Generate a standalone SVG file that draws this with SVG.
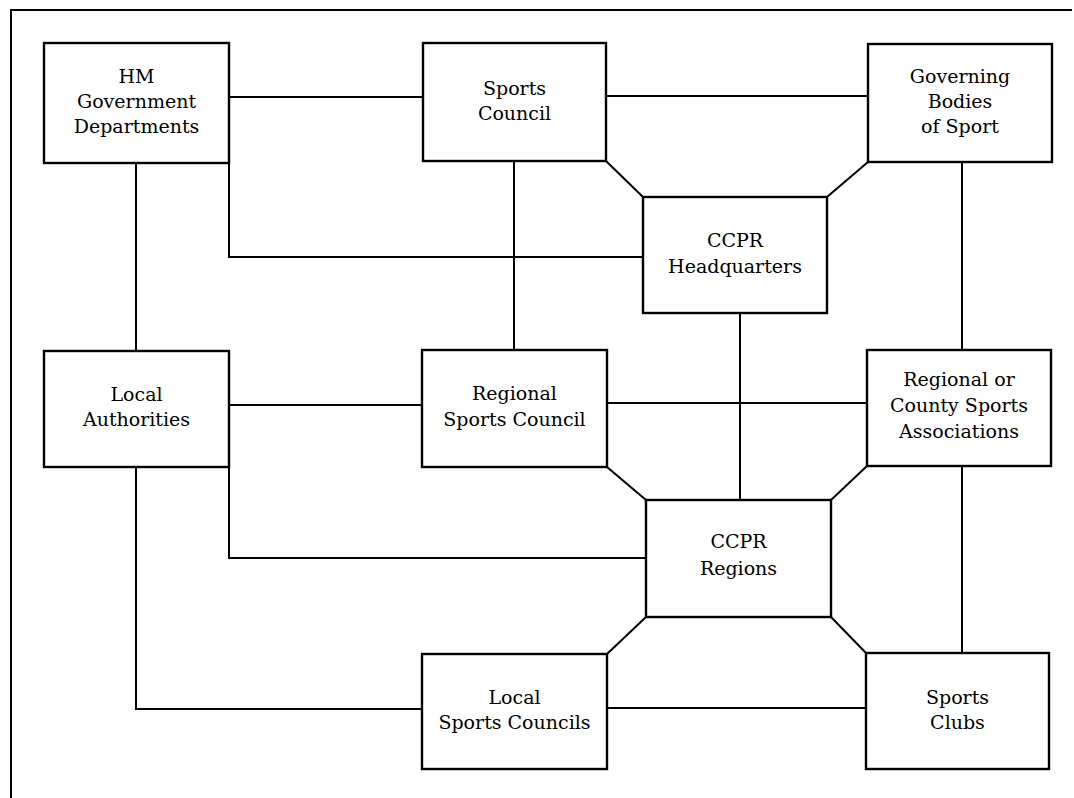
<svg xmlns="http://www.w3.org/2000/svg" width="1074" height="798" viewBox="0 0 1074 798">
<style>
.box{fill:#fff;stroke:#000;stroke-width:2.4}
.ln{fill:none;stroke:#000;stroke-width:2}
.frame{fill:none;stroke:#000;stroke-width:2}
text{font-family:"DejaVu Serif","Liberation Serif",serif;font-size:19px;fill:#000;text-anchor:middle}
</style>
<rect width="1074" height="798" fill="#fff"/>
<path class="frame" d="M11,798 L11,10 L1072,10"/>
<g id="connectors">
<path class="ln" d="M229,97 L423,97"/>
<path class="ln" d="M606,96 L868,96"/>
<path class="ln" d="M606,161 L643,197"/>
<path class="ln" d="M868,162 L827,197"/>
<path class="ln" d="M136,163 L136,351"/>
<path class="ln" d="M229,163 L229,257 L643,257"/>
<path class="ln" d="M514,161 L514,350"/>
<path class="ln" d="M962,162 L962,350"/>
<path class="ln" d="M740,313 L740,500"/>
<path class="ln" d="M229,405 L422,405"/>
<path class="ln" d="M607,403 L867,403"/>
<path class="ln" d="M607,467 L646,500"/>
<path class="ln" d="M867,466 L831,500"/>
<path class="ln" d="M229,467 L229,558 L646,558"/>
<path class="ln" d="M962,466 L962,653"/>
<path class="ln" d="M136,467 L136,709 L422,709"/>
<path class="ln" d="M607,654 L646,617"/>
<path class="ln" d="M831,617 L866,653"/>
<path class="ln" d="M607,708 L866,708"/>
</g>
<g id="hm">
<rect class="box" x="44" y="43" width="185" height="120"/>
<text x="136.5" y="83">HM</text>
<text x="136.5" y="108">Government</text>
<text x="136.5" y="133">Departments</text>
</g>
<g id="sports-council">
<rect class="box" x="423" y="43" width="183" height="118"/>
<text x="514.5" y="94.5">Sports</text>
<text x="514.5" y="119.5">Council</text>
</g>
<g id="governing-bodies">
<rect class="box" x="868" y="44" width="184" height="118"/>
<text x="960" y="83">Governing</text>
<text x="960" y="108">Bodies</text>
<text x="960" y="133">of Sport</text>
</g>
<g id="ccpr-hq">
<rect class="box" x="643" y="197" width="184" height="116"/>
<text x="735" y="247">CCPR</text>
<text x="735" y="272.5">Headquarters</text>
</g>
<g id="local-authorities">
<rect class="box" x="44" y="351" width="185" height="116"/>
<text x="136.5" y="400.5">Local</text>
<text x="136.5" y="426">Authorities</text>
</g>
<g id="regional-sports-council">
<rect class="box" x="422" y="350" width="185" height="117"/>
<text x="514.5" y="399.5">Regional</text>
<text x="514.5" y="425.5">Sports Council</text>
</g>
<g id="regional-county">
<rect class="box" x="867" y="350" width="184" height="116"/>
<text x="959" y="386">Regional or</text>
<text x="959" y="412">County Sports</text>
<text x="959" y="438">Associations</text>
</g>
<g id="ccpr-regions">
<rect class="box" x="646" y="500" width="185" height="117"/>
<text x="738.5" y="548">CCPR</text>
<text x="738.5" y="575">Regions</text>
</g>
<g id="local-sports-councils">
<rect class="box" x="422" y="654" width="185" height="115"/>
<text x="514.5" y="703.5">Local</text>
<text x="514.5" y="729">Sports Councils</text>
</g>
<g id="sports-clubs">
<rect class="box" x="866" y="653" width="183" height="116"/>
<text x="957.5" y="703.5">Sports</text>
<text x="957.5" y="729">Clubs</text>
</g>
</svg>
